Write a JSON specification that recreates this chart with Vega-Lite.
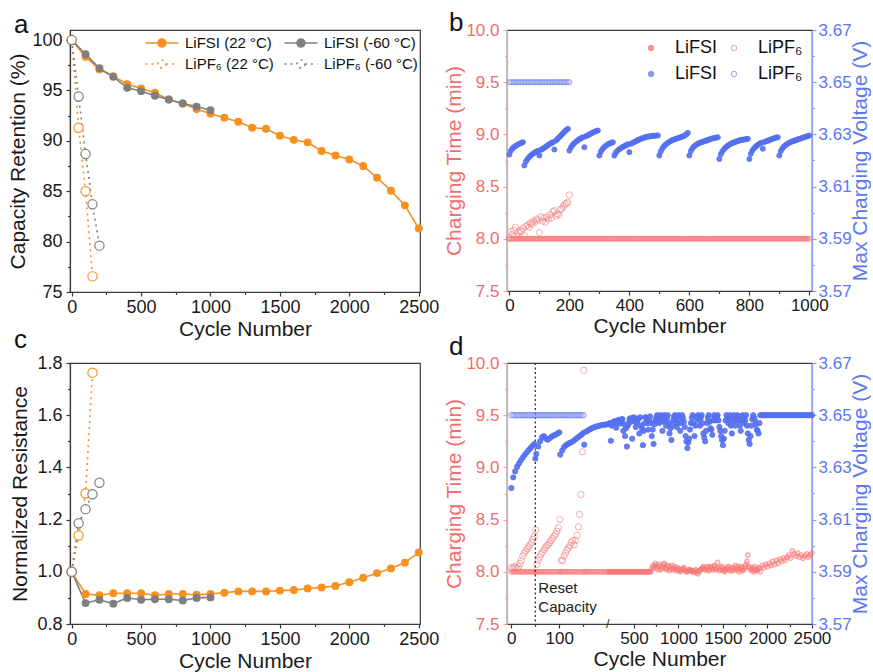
{
  "$schema": "https://vega.github.io/schema/vega-lite/v6.json",
  "padding": {"left": 7, "top": 9, "right": 0, "bottom": 0},
  "background": "white",
  "config": {
    "font": "Liberation Sans",
    "view": {"stroke": "#3a3a3a", "strokeWidth": 1.2},
    "axis": {"grid": false, "labelFont": "Liberation Sans", "titleFont": "Liberation Sans", "labelFontSize": 18, "titleFontSize": 21, "titleFontWeight": "normal", "labelColor": "#1a1a1a", "titleColor": "#1a1a1a", "domainColor": "#3a3a3a", "tickColor": "#3a3a3a", "tickSize": 4, "labelPadding": 2, "titlePadding": 2, "domainWidth": 1.2, "tickWidth": 1.2, "labelFlush": false, "labelOverlap": false},
    "axisY": {"labelPadding": 4, "titlePadding": 3},
    "title": {"fontSize": 26, "fontWeight": "normal", "anchor": "start", "frame": "group", "font": "Liberation Sans", "color": "#111", "baseline": "alphabetic", "offset": 0},
    "legend": {"labelFont": "Liberation Sans", "titleFont": "Liberation Sans"}
  },
  "datasets": {
    "ac": [
      {"s":"LiFSI (22 °C)","c":0,"r":100,"z":1.0},
      {"s":"LiFSI (22 °C)","c":100,"r":98.34,"z":0.915},
      {"s":"LiFSI (22 °C)","c":200,"r":97.09,"z":0.91},
      {"s":"LiFSI (22 °C)","c":300,"r":96.42,"z":0.918},
      {"s":"LiFSI (22 °C)","c":400,"r":95.63,"z":0.918},
      {"s":"LiFSI (22 °C)","c":500,"r":95.2,"z":0.918},
      {"s":"LiFSI (22 °C)","c":600,"r":94.77,"z":0.91},
      {"s":"LiFSI (22 °C)","c":700,"r":94.1,"z":0.915},
      {"s":"LiFSI (22 °C)","c":800,"r":93.7,"z":0.915},
      {"s":"LiFSI (22 °C)","c":900,"r":93.15,"z":0.912},
      {"s":"LiFSI (22 °C)","c":1000,"r":92.7,"z":0.915},
      {"s":"LiFSI (22 °C)","c":1100,"r":92.3,"z":0.92},
      {"s":"LiFSI (22 °C)","c":1200,"r":91.9,"z":0.925},
      {"s":"LiFSI (22 °C)","c":1300,"r":91.3,"z":0.925},
      {"s":"LiFSI (22 °C)","c":1400,"r":91.2,"z":0.925},
      {"s":"LiFSI (22 °C)","c":1500,"r":90.5,"z":0.928},
      {"s":"LiFSI (22 °C)","c":1600,"r":90.1,"z":0.93},
      {"s":"LiFSI (22 °C)","c":1700,"r":89.85,"z":0.936},
      {"s":"LiFSI (22 °C)","c":1800,"r":89.0,"z":0.94},
      {"s":"LiFSI (22 °C)","c":1900,"r":88.55,"z":0.946},
      {"s":"LiFSI (22 °C)","c":2000,"r":88.15,"z":0.96},
      {"s":"LiFSI (22 °C)","c":2100,"r":87.5,"z":0.977},
      {"s":"LiFSI (22 °C)","c":2200,"r":86.35,"z":0.995},
      {"s":"LiFSI (22 °C)","c":2300,"r":85.05,"z":1.013},
      {"s":"LiFSI (22 °C)","c":2400,"r":83.6,"z":1.035},
      {"s":"LiFSI (22 °C)","c":2500,"r":81.3,"z":1.074},
      {"s":"LiFSI (-60 °C)","c":0,"r":100,"z":1.0},
      {"s":"LiFSI (-60 °C)","c":100,"r":98.6,"z":0.88},
      {"s":"LiFSI (-60 °C)","c":200,"r":97.2,"z":0.893},
      {"s":"LiFSI (-60 °C)","c":300,"r":96.35,"z":0.878},
      {"s":"LiFSI (-60 °C)","c":400,"r":95.26,"z":0.9},
      {"s":"LiFSI (-60 °C)","c":500,"r":94.93,"z":0.893},
      {"s":"LiFSI (-60 °C)","c":600,"r":94.47,"z":0.895},
      {"s":"LiFSI (-60 °C)","c":700,"r":94.1,"z":0.895},
      {"s":"LiFSI (-60 °C)","c":800,"r":93.7,"z":0.89},
      {"s":"LiFSI (-60 °C)","c":900,"r":93.4,"z":0.9},
      {"s":"LiFSI (-60 °C)","c":1000,"r":93.05,"z":0.902},
      {"s":"LiPF₆ (22 °C)","c":0,"r":100,"z":1.0},
      {"s":"LiPF₆ (22 °C)","c":50,"r":91.3,"z":1.139},
      {"s":"LiPF₆ (22 °C)","c":100,"r":85.0,"z":1.3},
      {"s":"LiPF₆ (22 °C)","c":150,"r":76.55,"z":1.763},
      {"s":"LiPF₆ (-60 °C)","c":0,"r":100,"z":1.0},
      {"s":"LiPF₆ (-60 °C)","c":50,"r":94.4,"z":1.186},
      {"s":"LiPF₆ (-60 °C)","c":100,"r":88.7,"z":1.24},
      {"s":"LiPF₆ (-60 °C)","c":150,"r":83.7,"z":1.297},
      {"s":"LiPF₆ (-60 °C)","c":200,"r":79.6,"z":1.341}
    ],
    "bF": [
      {"c":0,"t":8,"v":3.6223},{"c":5,"t":8,"v":3.6238},{"c":10,"t":8,"v":3.6246},{"c":15,"t":8,"v":3.6251},{"c":20,"t":8,"v":3.6255},{"c":25,"t":8,"v":3.6259},{"c":30,"t":8,"v":3.6262},{"c":35,"t":8,"v":3.6265},{"c":40,"t":8,"v":3.6268},{"c":45,"t":8,"v":3.627},
      {"c":50,"t":8,"v":3.6181},{"c":55,"t":8,"v":3.6196},{"c":60,"t":8,"v":3.6205},{"c":65,"t":8,"v":3.6212},{"c":70,"t":8,"v":3.6218},{"c":75,"t":8,"v":3.6223},{"c":80,"t":8,"v":3.6227},{"c":85,"t":8,"v":3.6231},{"c":90,"t":8,"v":3.6234},{"c":95,"t":8,"v":3.6237},
      {"c":100,"t":8,"v":3.6219},{"c":105,"t":8,"v":3.6241},{"c":110,"t":8,"v":3.6244},{"c":115,"t":8,"v":3.6248},{"c":120,"t":8,"v":3.6252},{"c":125,"t":8,"v":3.6256},{"c":130,"t":8,"v":3.626},{"c":135,"t":8,"v":3.6264},{"c":140,"t":8,"v":3.6267},{"c":145,"t":8,"v":3.627},
      {"c":150,"t":8,"v":3.6242},{"c":155,"t":8,"v":3.6276},{"c":160,"t":8,"v":3.6282},{"c":165,"t":8,"v":3.6288},{"c":170,"t":8,"v":3.6294},{"c":175,"t":8,"v":3.63},{"c":180,"t":8,"v":3.6306},{"c":185,"t":8,"v":3.6312},{"c":190,"t":8,"v":3.6317},{"c":195,"t":8,"v":3.6321},
      {"c":200,"t":8,"v":3.6238},{"c":205,"t":8,"v":3.625},{"c":210,"t":8,"v":3.6258},{"c":215,"t":8,"v":3.6265},{"c":220,"t":8,"v":3.627},{"c":225,"t":8,"v":3.6275},{"c":230,"t":8,"v":3.6279},{"c":235,"t":8,"v":3.6283},{"c":240,"t":8,"v":3.6286},{"c":245,"t":8,"v":3.6289},
      {"c":250,"t":8,"v":3.6251},{"c":255,"t":8,"v":3.6293},{"c":260,"t":8,"v":3.6296},{"c":265,"t":8,"v":3.6299},{"c":270,"t":8,"v":3.6302},{"c":275,"t":8,"v":3.6305},{"c":280,"t":8,"v":3.6308},{"c":285,"t":8,"v":3.6311},{"c":290,"t":8,"v":3.6313},{"c":295,"t":8,"v":3.6315},
      {"c":300,"t":8,"v":3.6219},{"c":305,"t":8,"v":3.6234},{"c":310,"t":8,"v":3.6243},{"c":315,"t":8,"v":3.625},{"c":320,"t":8,"v":3.6255},{"c":325,"t":8,"v":3.6259},{"c":330,"t":8,"v":3.6263},{"c":335,"t":8,"v":3.6266},{"c":340,"t":8,"v":3.6268},{"c":345,"t":8,"v":3.627},
      {"c":350,"t":8,"v":3.6219},{"c":355,"t":8,"v":3.623},{"c":360,"t":8,"v":3.6237},{"c":365,"t":8,"v":3.6242},{"c":370,"t":8,"v":3.6246},{"c":375,"t":8,"v":3.625},{"c":380,"t":8,"v":3.6253},{"c":385,"t":8,"v":3.6256},{"c":390,"t":8,"v":3.6259},{"c":395,"t":8,"v":3.6262},
      {"c":400,"t":8,"v":3.6232},{"c":405,"t":8,"v":3.6264},{"c":410,"t":8,"v":3.6267},{"c":415,"t":8,"v":3.627},{"c":420,"t":8,"v":3.6273},{"c":425,"t":8,"v":3.6276},{"c":430,"t":8,"v":3.6279},{"c":435,"t":8,"v":3.6281},{"c":440,"t":8,"v":3.6284},{"c":445,"t":8,"v":3.6286},
      {"c":450,"t":8,"v":3.6288},{"c":455,"t":8,"v":3.629},{"c":460,"t":8,"v":3.6291},{"c":465,"t":8,"v":3.6292},{"c":470,"t":8,"v":3.6293},{"c":475,"t":8,"v":3.6294},{"c":480,"t":8,"v":3.6295},{"c":485,"t":8,"v":3.6295},{"c":490,"t":8,"v":3.6296},{"c":495,"t":8,"v":3.6296},
      {"c":500,"t":8,"v":3.6219},{"c":505,"t":8,"v":3.6235},{"c":510,"t":8,"v":3.6246},{"c":515,"t":8,"v":3.6254},{"c":520,"t":8,"v":3.626},{"c":525,"t":8,"v":3.6265},{"c":530,"t":8,"v":3.6269},{"c":535,"t":8,"v":3.6273},{"c":540,"t":8,"v":3.6276},{"c":545,"t":8,"v":3.6279},
      {"c":550,"t":8,"v":3.6281},{"c":555,"t":8,"v":3.6283},{"c":560,"t":8,"v":3.6285},{"c":565,"t":8,"v":3.6287},{"c":570,"t":8,"v":3.6289},{"c":575,"t":8,"v":3.6291},{"c":580,"t":8,"v":3.6293},{"c":585,"t":8,"v":3.6296},{"c":590,"t":8,"v":3.63},{"c":595,"t":8,"v":3.6306},
      {"c":600,"t":8,"v":3.6219},{"c":605,"t":8,"v":3.6236},{"c":610,"t":8,"v":3.6246},{"c":615,"t":8,"v":3.6253},{"c":620,"t":8,"v":3.6258},{"c":625,"t":8,"v":3.6262},{"c":630,"t":8,"v":3.6265},{"c":635,"t":8,"v":3.6268},{"c":640,"t":8,"v":3.627},{"c":645,"t":8,"v":3.6272},
      {"c":650,"t":8,"v":3.6274},{"c":655,"t":8,"v":3.6276},{"c":660,"t":8,"v":3.6278},{"c":665,"t":8,"v":3.628},{"c":670,"t":8,"v":3.6282},{"c":675,"t":8,"v":3.6284},{"c":680,"t":8,"v":3.6285},{"c":685,"t":8,"v":3.6287},{"c":690,"t":8,"v":3.6288},{"c":695,"t":8,"v":3.6289},
      {"c":700,"t":8,"v":3.6206},{"c":705,"t":8,"v":3.6224},{"c":710,"t":8,"v":3.6235},{"c":715,"t":8,"v":3.6243},{"c":720,"t":8,"v":3.6249},{"c":725,"t":8,"v":3.6254},{"c":730,"t":8,"v":3.6258},{"c":735,"t":8,"v":3.6262},{"c":740,"t":8,"v":3.6265},{"c":745,"t":8,"v":3.6268},
      {"c":750,"t":8,"v":3.627},{"c":755,"t":8,"v":3.6272},{"c":760,"t":8,"v":3.6274},{"c":765,"t":8,"v":3.6276},{"c":770,"t":8,"v":3.6278},{"c":775,"t":8,"v":3.6279},{"c":780,"t":8,"v":3.628},{"c":785,"t":8,"v":3.6281},{"c":790,"t":8,"v":3.6282},{"c":795,"t":8,"v":3.6283},
      {"c":800,"t":8,"v":3.6206},{"c":805,"t":8,"v":3.6226},{"c":810,"t":8,"v":3.6238},{"c":815,"t":8,"v":3.6246},{"c":820,"t":8,"v":3.6252},{"c":825,"t":8,"v":3.6257},{"c":830,"t":8,"v":3.6261},{"c":835,"t":8,"v":3.6265},{"c":840,"t":8,"v":3.6268},{"c":845,"t":8,"v":3.6245},
      {"c":850,"t":8,"v":3.6271},{"c":855,"t":8,"v":3.6273},{"c":860,"t":8,"v":3.6275},{"c":865,"t":8,"v":3.6278},{"c":870,"t":8,"v":3.628},{"c":875,"t":8,"v":3.6282},{"c":880,"t":8,"v":3.6284},{"c":885,"t":8,"v":3.6286},{"c":890,"t":8,"v":3.6288},{"c":895,"t":8,"v":3.6289},
      {"c":900,"t":8,"v":3.6219},{"c":905,"t":8,"v":3.6236},{"c":910,"t":8,"v":3.6246},{"c":915,"t":8,"v":3.6253},{"c":920,"t":8,"v":3.6258},{"c":925,"t":8,"v":3.6262},{"c":930,"t":8,"v":3.6266},{"c":935,"t":8,"v":3.6269},{"c":940,"t":8,"v":3.6272},{"c":945,"t":8,"v":3.6274},
      {"c":950,"t":8,"v":3.6276},{"c":955,"t":8,"v":3.6278},{"c":960,"t":8,"v":3.628},{"c":965,"t":8,"v":3.6282},{"c":970,"t":8,"v":3.6284},{"c":975,"t":8,"v":3.6286},{"c":980,"t":8,"v":3.6288},{"c":985,"t":8,"v":3.629},{"c":990,"t":8,"v":3.6292},{"c":995,"t":8,"v":3.6294},
      {"c":1000,"t":8,"v":3.6296}
    ],
    "bP": [
      {"c":0,"t":8.01,"v":3.65},{"c":5,"t":8.07,"v":3.65},{"c":10,"t":8.04,"v":3.65},{"c":15,"t":8.08,"v":3.65},{"c":20,"t":8.11,"v":3.65},{"c":25,"t":8.02,"v":3.65},{"c":30,"t":8.06,"v":3.65},{"c":35,"t":8.08,"v":3.65},{"c":40,"t":8.07,"v":3.65},{"c":45,"t":8.1,"v":3.65},
      {"c":50,"t":8.03,"v":3.65},{"c":55,"t":8.12,"v":3.65},{"c":60,"t":8.13,"v":3.65},{"c":65,"t":8.11,"v":3.65},{"c":70,"t":8.15,"v":3.65},{"c":75,"t":8.14,"v":3.65},{"c":80,"t":8.17,"v":3.65},{"c":85,"t":8.16,"v":3.65},{"c":90,"t":8.19,"v":3.65},{"c":95,"t":8.18,"v":3.65},
      {"c":100,"t":8.06,"v":3.65},{"c":105,"t":8.21,"v":3.65},{"c":110,"t":8.17,"v":3.65},{"c":115,"t":8.2,"v":3.65},{"c":120,"t":8.16,"v":3.65},{"c":125,"t":8.21,"v":3.65},{"c":130,"t":8.19,"v":3.65},{"c":135,"t":8.23,"v":3.65},{"c":140,"t":8.2,"v":3.65},{"c":145,"t":8.26,"v":3.65},
      {"c":150,"t":8.27,"v":3.65},{"c":155,"t":8.22,"v":3.65},{"c":160,"t":8.24,"v":3.65},{"c":165,"t":8.23,"v":3.65},{"c":170,"t":8.28,"v":3.65},{"c":175,"t":8.29,"v":3.65},{"c":180,"t":8.31,"v":3.65},{"c":185,"t":8.33,"v":3.65},{"c":190,"t":8.34,"v":3.65},{"c":195,"t":8.35,"v":3.65},
      {"c":200,"t":8.42,"v":3.65}
    ],
    "dF": [
      {"c":0,"t":8,"v":3.6221},{"c":4,"t":8,"v":3.6262},{"c":8,"t":8,"v":3.6285},{"c":12,"t":8,"v":3.6302},{"c":16,"t":8,"v":3.6315},{"c":20,"t":8,"v":3.6327},{"c":24,"t":8,"v":3.6338},{"c":28,"t":8,"v":3.6348},{"c":32,"t":8,"v":3.6357},{"c":36,"t":8,"v":3.6366},
      {"c":40,"t":8,"v":3.6374},{"c":44,"t":8,"v":3.6382},{"c":48,"t":8,"v":3.639},{"c":50,"t":8,"v":3.6334},{"c":52,"t":8,"v":3.6352},{"c":56,"t":8,"v":3.638},{"c":60,"t":8,"v":3.64},{"c":64,"t":8,"v":3.6416},{"c":68,"t":8,"v":3.642},{"c":72,"t":8,"v":3.641},
      {"c":76,"t":8,"v":3.6406},{"c":80,"t":8,"v":3.6412},{"c":84,"t":8,"v":3.6418},{"c":88,"t":8,"v":3.6422},{"c":92,"t":8,"v":3.6425},{"c":96,"t":8,"v":3.643},{"c":100,"t":8,"v":3.6434},{"c":102,"t":8,"v":3.6349},{"c":106,"t":8,"v":3.6365},{"c":110,"t":8,"v":3.6378},
      {"c":114,"t":8,"v":3.6385},{"c":118,"t":8,"v":3.639},{"c":122,"t":8,"v":3.6394},{"c":126,"t":8,"v":3.6397},{"c":130,"t":8,"v":3.6402},{"c":134,"t":8,"v":3.6408},{"c":138,"t":8,"v":3.6414},{"c":142,"t":8,"v":3.642},{"c":146,"t":8,"v":3.6425},{"c":150,"t":8,"v":3.6432},
      {"c":152,"t":8,"v":3.6387},{"c":156,"t":8,"v":3.6437},{"c":160,"t":8,"v":3.6442},{"c":164,"t":8,"v":3.6446},{"c":168,"t":8,"v":3.645},{"c":172,"t":8,"v":3.6453},{"c":176,"t":8,"v":3.6456},{"c":180,"t":8,"v":3.6458},{"c":184,"t":8,"v":3.646},{"c":188,"t":8,"v":3.6462},
      {"c":192,"t":8,"v":3.6463},{"c":196,"t":8,"v":3.6464},
      {"c":200,"t":8,"v":3.6465},{"c":220,"t":8,"v":3.6468},{"c":240,"t":8,"v":3.6402},{"c":260,"t":8,"v":3.6472},{"c":280,"t":8,"v":3.6476},{"c":300,"t":8,"v":3.6452},{"c":320,"t":8,"v":3.648},{"c":340,"t":8,"v":3.6468},{"c":360,"t":8,"v":3.6484},{"c":380,"t":8,"v":3.644},
      {"c":400,"t":8,"v":3.642},{"c":420,"t":8,"v":3.638},{"c":440,"t":8,"v":3.647},{"c":460,"t":8,"v":3.6488},{"c":480,"t":8,"v":3.641},{"c":500,"t":8,"v":3.6492},{"c":520,"t":8,"v":3.6455},{"c":540,"t":8,"v":3.6478},{"c":560,"t":8,"v":3.643},{"c":580,"t":8,"v":3.646},
      {"c":600,"t":8,"v":3.6385},{"c":620,"t":8,"v":3.647},{"c":640,"t":8,"v":3.649},{"c":660,"t":8,"v":3.6445},{"c":680,"t":8,"v":3.6495},{"c":700,"t":8.03,"v":3.642},{"c":720,"t":8.06,"v":3.639},{"c":740,"t":8.08,"v":3.648},{"c":760,"t":8.04,"v":3.65},{"c":780,"t":8.07,"v":3.647},
      {"c":800,"t":8.02,"v":3.65},{"c":820,"t":8.05,"v":3.644},{"c":840,"t":8.08,"v":3.65},{"c":860,"t":8.03,"v":3.646},{"c":880,"t":8.06,"v":3.65},{"c":900,"t":8.01,"v":3.643},{"c":920,"t":8.04,"v":3.6405},{"c":940,"t":8.02,"v":3.648},{"c":960,"t":8.05,"v":3.65},{"c":980,"t":8.01,"v":3.6455},
      {"c":1000,"t":8.03,"v":3.65},{"c":1020,"t":8.0,"v":3.644},{"c":1040,"t":8.02,"v":3.65},{"c":1060,"t":8.04,"v":3.6475},{"c":1080,"t":8.01,"v":3.642},{"c":1100,"t":8.0,"v":3.6374},{"c":1120,"t":8.02,"v":3.641},{"c":1140,"t":8.01,"v":3.647},{"c":1160,"t":8.0,"v":3.65},{"c":1180,"t":8.01,"v":3.642},
      {"c":1200,"t":7.99,"v":3.649},{"c":1220,"t":7.98,"v":3.65},{"c":1240,"t":8.01,"v":3.646},{"c":1260,"t":8.03,"v":3.65},{"c":1280,"t":8.05,"v":3.643},{"c":1300,"t":8.02,"v":3.64},{"c":1320,"t":8.04,"v":3.647},{"c":1340,"t":8.01,"v":3.65},{"c":1360,"t":8.05,"v":3.645},{"c":1380,"t":8.03,"v":3.6425},
      {"c":1400,"t":8.06,"v":3.65},{"c":1420,"t":8.02,"v":3.648},{"c":1440,"t":8.09,"v":3.65},{"c":1460,"t":8.01,"v":3.6455},{"c":1480,"t":8.04,"v":3.642},{"c":1500,"t":8.02,"v":3.6385},{"c":1520,"t":8.0,"v":3.644},{"c":1540,"t":8.03,"v":3.65},{"c":1560,"t":8.05,"v":3.647},{"c":1580,"t":8.01,"v":3.65},
      {"c":1600,"t":8.04,"v":3.643},{"c":1620,"t":8.02,"v":3.65},{"c":1640,"t":8.06,"v":3.646},{"c":1660,"t":8.03,"v":3.65},{"c":1680,"t":8.0,"v":3.648},{"c":1700,"t":8.05,"v":3.644},{"c":1720,"t":8.01,"v":3.65},{"c":1740,"t":8.03,"v":3.647},{"c":1760,"t":8.07,"v":3.65},{"c":1780,"t":8.16,"v":3.643},
      {"c":1800,"t":8.04,"v":3.639},{"c":1820,"t":8.02,"v":3.646},{"c":1840,"t":8.0,"v":3.65},{"c":1860,"t":8.05,"v":3.648},{"c":1880,"t":8.01,"v":3.6445},{"c":1900,"t":8.03,"v":3.643},{"c":1920,"t":8.0,"v":3.65},{"c":1940,"t":8.06,"v":3.65},{"c":1960,"t":8.04,"v":3.65},{"c":1980,"t":8.07,"v":3.65},
      {"c":2000,"t":8.05,"v":3.65},{"c":2020,"t":8.08,"v":3.65},{"c":2040,"t":8.06,"v":3.65},{"c":2060,"t":8.1,"v":3.65},{"c":2080,"t":8.07,"v":3.65},{"c":2100,"t":8.11,"v":3.65},{"c":2120,"t":8.08,"v":3.65},{"c":2140,"t":8.12,"v":3.65},{"c":2160,"t":8.1,"v":3.65},{"c":2180,"t":8.13,"v":3.65},
      {"c":2200,"t":8.11,"v":3.65},{"c":2220,"t":8.14,"v":3.65},{"c":2240,"t":8.16,"v":3.65},{"c":2260,"t":8.13,"v":3.65},{"c":2280,"t":8.2,"v":3.65},{"c":2300,"t":8.17,"v":3.65},{"c":2320,"t":8.15,"v":3.65},{"c":2340,"t":8.18,"v":3.65},{"c":2360,"t":8.14,"v":3.65},{"c":2380,"t":8.16,"v":3.65},
      {"c":2400,"t":8.13,"v":3.65},{"c":2420,"t":8.15,"v":3.65},{"c":2440,"t":8.17,"v":3.65},{"c":2460,"t":8.14,"v":3.65},{"c":2480,"t":8.16,"v":3.65},{"c":2500,"t":8.18,"v":3.65},
      {"c":210,"t":8,"v":3.6466},{"c":230,"t":8,"v":3.647},{"c":250,"t":8,"v":3.646},{"c":270,"t":8,"v":3.6474},{"c":290,"t":8,"v":3.6478},{"c":310,"t":8,"v":3.647},{"c":330,"t":8,"v":3.6482},{"c":350,"t":8,"v":3.6475},{"c":370,"t":8,"v":3.6485},{"c":390,"t":8,"v":3.6465},
      {"c":410,"t":8,"v":3.645},{"c":430,"t":8,"v":3.646},{"c":450,"t":8,"v":3.6486},{"c":470,"t":8,"v":3.6475},{"c":490,"t":8,"v":3.649},{"c":510,"t":8,"v":3.648},{"c":530,"t":8,"v":3.647},{"c":550,"t":8,"v":3.6488},{"c":570,"t":8,"v":3.6492},{"c":590,"t":8,"v":3.645},
      {"c":610,"t":8,"v":3.644},{"c":630,"t":8,"v":3.6493},{"c":650,"t":8,"v":3.647},{"c":670,"t":8,"v":3.648},{"c":690,"t":8,"v":3.647},{"c":710,"t":8.05,"v":3.6445},{"c":730,"t":8.04,"v":3.6465},{"c":750,"t":8.06,"v":3.649},{"c":770,"t":8.02,"v":3.648},{"c":790,"t":8.05,"v":3.6495},
      {"c":810,"t":8.03,"v":3.6475},{"c":830,"t":8.07,"v":3.649},{"c":850,"t":8.04,"v":3.648},{"c":870,"t":8.02,"v":3.649},{"c":890,"t":8.05,"v":3.647},{"c":910,"t":8.03,"v":3.645},{"c":930,"t":8.06,"v":3.646},{"c":950,"t":8.03,"v":3.6495},{"c":970,"t":8.02,"v":3.648},{"c":990,"t":8.04,"v":3.647},
      {"c":1010,"t":8.02,"v":3.649},{"c":1030,"t":8.01,"v":3.647},{"c":1050,"t":8.03,"v":3.649},{"c":1070,"t":8.02,"v":3.6455},{"c":1090,"t":8.0,"v":3.64},{"c":1110,"t":8.01,"v":3.6395},{"c":1130,"t":8.02,"v":3.6445},{"c":1150,"t":8.01,"v":3.649},{"c":1170,"t":8.0,"v":3.647},{"c":1190,"t":8.02,"v":3.646},
      {"c":1210,"t":8.0,"v":3.6495},{"c":1230,"t":8.01,"v":3.648},{"c":1250,"t":8.02,"v":3.649},{"c":1270,"t":8.04,"v":3.647},{"c":1290,"t":8.03,"v":3.6415},{"c":1310,"t":8.02,"v":3.644},{"c":1330,"t":8.05,"v":3.649},{"c":1350,"t":8.02,"v":3.6475},{"c":1370,"t":8.04,"v":3.6445},{"c":1390,"t":8.02,"v":3.648},
      {"c":1410,"t":8.05,"v":3.649},{"c":1430,"t":8.03,"v":3.6495},{"c":1450,"t":8.04,"v":3.648},{"c":1470,"t":8.02,"v":3.644},{"c":1490,"t":8.05,"v":3.6405},{"c":1510,"t":8.01,"v":3.641},{"c":1530,"t":8.02,"v":3.648},{"c":1550,"t":8.04,"v":3.649},{"c":1570,"t":8.02,"v":3.6485},{"c":1590,"t":8.03,"v":3.646},
      {"c":1610,"t":8.01,"v":3.6475},{"c":1630,"t":8.04,"v":3.649},{"c":1650,"t":8.02,"v":3.648},{"c":1670,"t":8.05,"v":3.6495},{"c":1690,"t":8.02,"v":3.646},{"c":1710,"t":8.04,"v":3.648},{"c":1730,"t":8.02,"v":3.649},{"c":1750,"t":8.05,"v":3.648},{"c":1770,"t":8.1,"v":3.646},{"c":1790,"t":8.05,"v":3.6405},
      {"c":1810,"t":8.02,"v":3.642},{"c":1830,"t":8.04,"v":3.6485},{"c":1850,"t":8.01,"v":3.649},{"c":1870,"t":8.03,"v":3.6465},{"c":1890,"t":8.02,"v":3.644},{"c":1910,"t":8.04,"v":3.647}
    ],
    "dP": [
      {"c":0,"t":8.04,"v":3.65},{"c":3,"t":8.03,"v":3.65},{"c":6,"t":8.05,"v":3.65},{"c":9,"t":8.04,"v":3.65},{"c":12,"t":8.03,"v":3.65},{"c":15,"t":8.05,"v":3.65},{"c":18,"t":8.08,"v":3.65},{"c":21,"t":8.11,"v":3.65},{"c":24,"t":8.15,"v":3.65},{"c":27,"t":8.18,"v":3.65},
      {"c":30,"t":8.2,"v":3.65},{"c":33,"t":8.22,"v":3.65},{"c":36,"t":8.24,"v":3.65},{"c":39,"t":8.26,"v":3.65},{"c":42,"t":8.28,"v":3.65},{"c":45,"t":8.31,"v":3.65},{"c":48,"t":8.34,"v":3.65},{"c":51,"t":8.4,"v":3.65},
      {"c":53,"t":8.07,"v":3.65},{"c":56,"t":8.11,"v":3.65},{"c":59,"t":8.14,"v":3.65},{"c":62,"t":8.17,"v":3.65},{"c":65,"t":8.19,"v":3.65},{"c":68,"t":8.21,"v":3.65},{"c":71,"t":8.23,"v":3.65},{"c":74,"t":8.25,"v":3.65},{"c":77,"t":8.26,"v":3.65},{"c":80,"t":8.28,"v":3.65},
      {"c":83,"t":8.3,"v":3.65},{"c":86,"t":8.32,"v":3.65},{"c":89,"t":8.34,"v":3.65},{"c":92,"t":8.36,"v":3.65},{"c":95,"t":8.39,"v":3.65},{"c":98,"t":8.42,"v":3.65},{"c":101,"t":8.5,"v":3.65},
      {"c":104,"t":8.11,"v":3.65},{"c":107,"t":8.11,"v":3.65},{"c":110,"t":8.15,"v":3.65},{"c":113,"t":8.18,"v":3.65},{"c":116,"t":8.21,"v":3.65},{"c":119,"t":8.23,"v":3.65},{"c":122,"t":8.25,"v":3.65},{"c":125,"t":8.28,"v":3.65},{"c":128,"t":8.3,"v":3.65},{"c":131,"t":8.26,"v":3.65},
      {"c":134,"t":8.3,"v":3.65},{"c":137,"t":8.35,"v":3.65},{"c":140,"t":8.43,"v":3.65},{"c":142,"t":8.55,"v":3.65},{"c":145,"t":8.74,"v":3.65},{"c":148,"t":9.15,"v":3.65},{"c":151,"t":9.93,"v":3.65}
    ],
    "legA": [
      {"s":"LiFSI (22 °C)"},{"s":"LiFSI (-60 °C)"},{"s":"LiPF₆ (22 °C)"},{"s":"LiPF₆ (-60 °C)"}
    ],
    "legB": [
      {"k":"LiFSI|t"},{"k":"LiPF₆|t"},{"k":"LiFSI|v"},{"k":"LiPF₆|v"}
    ]
  },
  "columns": 2,
  "bounds": "flush",
  "spacing": {"row": 71, "column": 87},
  "resolve": {"scale": {"stroke": "independent", "fill": "independent", "strokeDash": "independent", "color": "independent"}, "legend": {"stroke": "independent", "fill": "independent", "strokeDash": "independent"}},
  "concat": [
    {
      "width": 350, "height": 262,
      "title": {"text": "a", "dx": -56, "dy": 12},
      "resolve": {"axis": {"x": "independent", "y": "independent"}},
      "layer": [
        {
          "data": {"name": "ac"},
          "mark": {"type": "line", "strokeWidth": 1.6},
          "encoding": {
            "x": {"field": "c", "type": "quantitative", "scale": {"domain": [-12, 2509], "nice": false, "zero": false}, "axis": {"orient": "bottom", "values": [0, 500, 1000, 1500, 2000, 2500], "format": "d", "title": "Cycle Number"}},
            "y": {"field": "r", "type": "quantitative", "scale": {"domain": [75, 101], "nice": false, "zero": false}, "axis": {"orient": "left", "values": [75, 80, 85, 90, 95, 100], "title": "Capacity Retention (%)"}},
            "stroke": {"field": "s", "type": "nominal", "scale": {"domain": ["LiFSI (22 °C)", "LiFSI (-60 °C)", "LiPF₆ (22 °C)", "LiPF₆ (-60 °C)"], "range": ["#F7901E", "#7F7F7F", "#F7901E", "#7F7F7F"]}},
            "strokeDash": {"field": "s", "type": "nominal", "scale": {"domain": ["LiFSI (22 °C)", "LiFSI (-60 °C)", "LiPF₆ (22 °C)", "LiPF₆ (-60 °C)"], "range": [[1, 0], [1, 0], [2, 4], [2, 4]]}}
          }
        },
        {
          "data": {"name": "ac"},
          "transform": [{"filter": "indexof(datum.s, 'LiFSI') == 0"}],
          "mark": {"type": "point", "shape": "circle", "size": 45, "strokeWidth": 1.2, "opacity": 1},
          "encoding": {
            "x": {"field": "c", "type": "quantitative", "axis": null},
            "y": {"field": "r", "type": "quantitative", "axis": null},
            "stroke": {"field": "s", "type": "nominal"},
            "fill": {"field": "s", "type": "nominal", "scale": {"domain": ["LiFSI (22 °C)", "LiFSI (-60 °C)", "LiPF₆ (22 °C)", "LiPF₆ (-60 °C)"], "range": ["#F7901E", "#7F7F7F", "#ffffff", "#ffffff"]}}
          }
        },
        {
          "data": {"name": "ac"},
          "transform": [{"filter": "indexof(datum.s, 'LiPF') == 0"}],
          "mark": {"type": "point", "shape": "circle", "size": 85, "strokeWidth": 1.2, "opacity": 1},
          "encoding": {
            "x": {"field": "c", "type": "quantitative", "axis": null},
            "y": {"field": "r", "type": "quantitative", "axis": null},
            "stroke": {"field": "s", "type": "nominal"},
            "fill": {"field": "s", "type": "nominal"}
          }
        },
        {
          "data": {"name": "legA"},
          "transform": [{"filter": "false"}],
          "mark": {"type": "point", "shape": "circle"},
          "encoding": {
            "stroke": {"field": "s", "type": "nominal", "legend": {"values": ["LiFSI (22 °C)", "LiPF₆ (22 °C)", "LiFSI (-60 °C)", "LiPF₆ (-60 °C)"], "orient": "top-right", "offset": 2, "padding": 0, "columns": 2, "title": null, "symbolType": "M-1.65,0L-0.4,0M0.4,0L1.65,0M0.4,0A0.4,0.4,0,1,1,-0.4,0A0.4,0.4,0,1,1,0.4,0", "symbolSize": 400, "symbolStrokeWidth": 1.5, "labelFontSize": 15, "labelOffset": 12, "columnPadding": 7, "rowPadding": 2, "labelColor": "#111"}},
            "strokeDash": {"field": "s", "type": "nominal", "legend": {"values": ["LiFSI (22 °C)", "LiPF₆ (22 °C)", "LiFSI (-60 °C)", "LiPF₆ (-60 °C)"], "orient": "top-right", "offset": 2, "padding": 0, "columns": 2, "title": null, "symbolType": "M-1.65,0L-0.4,0M0.4,0L1.65,0M0.4,0A0.4,0.4,0,1,1,-0.4,0A0.4,0.4,0,1,1,0.4,0", "symbolSize": 400, "symbolStrokeWidth": 1.5, "labelFontSize": 15, "labelOffset": 12, "columnPadding": 7, "rowPadding": 2, "labelColor": "#111"}},
            "fill": {"field": "s", "type": "nominal", "legend": {"values": ["LiFSI (22 °C)", "LiPF₆ (22 °C)", "LiFSI (-60 °C)", "LiPF₆ (-60 °C)"], "orient": "top-right", "offset": 2, "padding": 0, "columns": 2, "title": null, "symbolType": "M-1.65,0L-0.4,0M0.4,0L1.65,0M0.4,0A0.4,0.4,0,1,1,-0.4,0A0.4,0.4,0,1,1,0.4,0", "symbolSize": 400, "symbolStrokeWidth": 1.5, "labelFontSize": 15, "labelOffset": 12, "columnPadding": 7, "rowPadding": 2, "labelColor": "#111"}}
          }
        },
        {
          "data": {"name": "ac"},
          "transform": [{"filter": "false"}],
          "mark": {"type": "point"},
          "encoding": {
            "x": {"field": "c", "type": "quantitative", "axis": {"orient": "bottom", "values": [250, 750, 1250, 1750, 2250], "labels": false, "title": null, "domain": false, "tickSize": 2.5}},
            "y": {"field": "r", "type": "quantitative", "axis": {"orient": "left", "values": [77.5, 82.5, 87.5, 92.5, 97.5], "labels": false, "title": null, "domain": false, "tickSize": 2.5}}
          }
        }
      ]
    },
    {
      "width": 305, "height": 261,
      "title": {"text": "b", "dx": -58, "dy": 19},
      "resolve": {"scale": {"y": "independent"}, "axis": {"x": "independent"}},
      "layer": [
        {
          "resolve": {"axis": {"x": "independent", "y": "independent"}},
          "layer": [
            {
              "data": {"name": "bF"},
              "mark": {"type": "point", "shape": "circle", "size": 24, "fill": "#F87878", "fillOpacity": 0.25, "stroke": "#F87878", "strokeOpacity": 0.8, "strokeWidth": 0.8},
              "encoding": {
                "x": {"field": "c", "type": "quantitative", "scale": {"domain": [-8, 1009], "nice": false, "zero": false}, "axis": {"orient": "bottom", "values": [0, 200, 400, 600, 800, 1000], "format": "d", "title": "Cycle Number", "labelFontSize": 17}},
                "y": {"field": "t", "type": "quantitative", "scale": {"domain": [7.5, 10], "nice": false, "zero": false}, "axis": {"orient": "left", "values": [7.5, 8, 8.5, 9, 9.5, 10], "format": ".1f", "title": "Charging Time (min)", "labelFontSize": 17, "labelColor": "#F26D6D", "titleColor": "#F26D6D", "domainColor": "#F4A0A0", "tickColor": "#F4A0A0", "titlePadding": 1}}
              }
            },
            {
              "data": {"name": "bP"},
              "mark": {"type": "point", "shape": "circle", "size": 40, "fill": "rgba(255,255,255,0)", "stroke": "#F08080", "strokeWidth": 0.9},
              "encoding": {
                "x": {"field": "c", "type": "quantitative", "axis": null},
                "y": {"field": "t", "type": "quantitative", "axis": null}
              }
            },
            {
              "data": {"name": "bP"},
              "transform": [{"filter": "false"}],
              "mark": {"type": "point"},
              "encoding": {
                "x": {"field": "c", "type": "quantitative", "axis": {"orient": "bottom", "values": [100, 300, 500, 700, 900], "labels": false, "title": null, "domain": false, "tickSize": 2.5}},
                "y": {"field": "t", "type": "quantitative", "axis": {"orient": "left", "values": [7.75, 8.25, 8.75, 9.25, 9.75], "labels": false, "title": null, "domain": false, "tickSize": 2.5, "tickColor": "#F4A0A0"}}
              }
            },
            {
              "data": {"name": "legB"},
              "transform": [{"filter": "false"}],
              "mark": {"type": "point", "shape": "circle"},
              "encoding": {
                "stroke": {"field": "k", "type": "nominal", "scale": {"domain": ["LiFSI|t", "LiPF₆|t", "LiFSI|v", "LiPF₆|v"], "range": ["#F86464", "#F08080", "#5470F0", "#7085EC"]},
                  "legend": {"values": ["LiFSI|t", "LiFSI|v", "LiPF₆|t", "LiPF₆|v"], "orient": "top-right", "offset": 9, "padding": 0, "columns": 2, "title": null, "symbolType": "circle", "symbolSize": 30, "symbolStrokeWidth": 1, "labelFontSize": 18, "labelOffset": 15, "columnPadding": 7, "rowPadding": 8, "labelColor": "#111", "labelExpr": "split(datum.label, '|')[0]"}},
                "fill": {"field": "k", "type": "nominal", "scale": {"domain": ["LiFSI|t", "LiPF₆|t", "LiFSI|v", "LiPF₆|v"], "range": ["#F86464", "rgba(255,255,255,0)", "#5470F0", "rgba(255,255,255,0)"]},
                  "legend": {"values": ["LiFSI|t", "LiFSI|v", "LiPF₆|t", "LiPF₆|v"], "orient": "top-right", "offset": 9, "padding": 0, "columns": 2, "title": null, "symbolType": "circle", "symbolSize": 30, "symbolStrokeWidth": 1, "labelFontSize": 18, "labelOffset": 15, "columnPadding": 7, "rowPadding": 8, "labelColor": "#111", "labelExpr": "split(datum.label, '|')[0]"}}
              }
            }
          ]
        },
        {
          "resolve": {"axis": {"x": "independent", "y": "independent"}},
          "layer": [
            {
              "data": {"name": "bF"},
              "mark": {"type": "point", "shape": "circle", "size": 26, "fill": "#5470F0", "fillOpacity": 0.9, "stroke": "#5470F0", "strokeWidth": 0.8},
              "encoding": {
                "x": {"field": "c", "type": "quantitative", "axis": null},
                "y": {"field": "v", "type": "quantitative", "scale": {"domain": [3.57, 3.67], "nice": false, "zero": false}, "axis": {"orient": "right", "values": [3.57, 3.59, 3.61, 3.63, 3.65, 3.67], "format": ".2f", "title": "Max Charging Voltage (V)", "labelFontSize": 17, "labelColor": "#5B78F2", "titleColor": "#5B78F2", "domainColor": "#8C9CF5", "tickColor": "#8C9CF5", "titleAngle": 270, "titleBaseline": "top", "titlePadding": -2, "labelPadding": 2}}
              }
            },
            {
              "data": {"name": "bP"},
              "mark": {"type": "point", "shape": "circle", "size": 26, "fill": "rgba(255,255,255,0)", "stroke": "#7085EC", "strokeWidth": 0.9},
              "encoding": {
                "x": {"field": "c", "type": "quantitative", "axis": null},
                "y": {"field": "v", "type": "quantitative", "axis": null}
              }
            },
            {
              "data": {"name": "bP"},
              "transform": [{"filter": "false"}],
              "mark": {"type": "point"},
              "encoding": {
                "x": {"field": "c", "type": "quantitative", "axis": null},
                "y": {"field": "v", "type": "quantitative", "axis": {"orient": "right", "values": [3.58, 3.6, 3.62, 3.64, 3.66], "labels": false, "title": null, "domain": false, "tickSize": 2.5, "tickColor": "#8C9CF5"}}
              }
            }
          ]
        }
      ]
    },
    {
      "width": 350, "height": 261,
      "title": {"text": "c", "dx": -56, "dy": 3},
      "resolve": {"axis": {"x": "independent", "y": "independent"}},
      "layer": [
        {
          "data": {"name": "ac"},
          "mark": {"type": "line", "strokeWidth": 1.6},
          "encoding": {
            "x": {"field": "c", "type": "quantitative", "scale": {"domain": [-12, 2509], "nice": false, "zero": false}, "axis": {"orient": "bottom", "values": [0, 500, 1000, 1500, 2000, 2500], "format": "d", "title": "Cycle Number"}},
            "y": {"field": "z", "type": "quantitative", "scale": {"domain": [0.8, 1.8], "nice": false, "zero": false}, "axis": {"orient": "left", "values": [0.8, 1.0, 1.2, 1.4, 1.6, 1.8], "format": ".1f", "title": "Normalized Resistance", "titlePadding": 6}},
            "stroke": {"field": "s", "type": "nominal", "scale": {"domain": ["LiFSI (22 °C)", "LiFSI (-60 °C)", "LiPF₆ (22 °C)", "LiPF₆ (-60 °C)"], "range": ["#F7901E", "#7F7F7F", "#F7901E", "#7F7F7F"]}, "legend": null},
            "strokeDash": {"field": "s", "type": "nominal", "scale": {"domain": ["LiFSI (22 °C)", "LiFSI (-60 °C)", "LiPF₆ (22 °C)", "LiPF₆ (-60 °C)"], "range": [[1, 0], [1, 0], [2, 4], [2, 4]]}, "legend": null}
          }
        },
        {
          "data": {"name": "ac"},
          "transform": [{"filter": "indexof(datum.s, 'LiFSI') == 0"}],
          "mark": {"type": "point", "shape": "circle", "size": 45, "strokeWidth": 1.2, "opacity": 1},
          "encoding": {
            "x": {"field": "c", "type": "quantitative", "axis": null},
            "y": {"field": "z", "type": "quantitative", "axis": null},
            "stroke": {"field": "s", "type": "nominal", "legend": null},
            "fill": {"field": "s", "type": "nominal", "scale": {"domain": ["LiFSI (22 °C)", "LiFSI (-60 °C)", "LiPF₆ (22 °C)", "LiPF₆ (-60 °C)"], "range": ["#F7901E", "#7F7F7F", "#ffffff", "#ffffff"]}, "legend": null}
          }
        },
        {
          "data": {"name": "ac"},
          "transform": [{"filter": "indexof(datum.s, 'LiPF') == 0"}],
          "mark": {"type": "point", "shape": "circle", "size": 85, "strokeWidth": 1.2, "opacity": 1},
          "encoding": {
            "x": {"field": "c", "type": "quantitative", "axis": null},
            "y": {"field": "z", "type": "quantitative", "axis": null},
            "stroke": {"field": "s", "type": "nominal", "legend": null},
            "fill": {"field": "s", "type": "nominal", "legend": null}
          }
        },
        {
          "data": {"name": "ac"},
          "transform": [{"filter": "false"}],
          "mark": {"type": "point"},
          "encoding": {
            "x": {"field": "c", "type": "quantitative", "axis": {"orient": "bottom", "values": [250, 750, 1250, 1750, 2250], "labels": false, "title": null, "domain": false, "tickSize": 2.5}},
            "y": {"field": "z", "type": "quantitative", "axis": {"orient": "left", "values": [0.9, 1.1, 1.3, 1.5, 1.7], "labels": false, "title": null, "domain": false, "tickSize": 2.5}}
          }
        }
      ]
    },
    {
      "width": 305, "height": 261,
      "title": {"text": "d", "dx": -58, "dy": 10},
      "resolve": {"scale": {"y": "independent"}, "axis": {"x": "independent"}},
      "layer": [
        {
          "resolve": {"axis": {"x": "independent", "y": "independent"}},
          "layer": [
            {
              "data": {"name": "dF"},
              "mark": {"type": "point", "shape": "circle", "size": 24, "fill": "#F87878", "fillOpacity": 0.3, "stroke": "#F87878", "strokeOpacity": 0.85, "strokeWidth": 0.8},
              "encoding": {
                "x": {"field": "c", "type": "quantitative", "scale": {"domain": [-9, 200, 2501], "range": [0, 100.3, 305], "nice": false, "zero": false}, "axis": {"orient": "bottom", "values": [0, 100, 500, 1000, 1500, 2000, 2500], "format": "d", "title": "Cycle Number", "labelFontSize": 17}},
                "y": {"field": "t", "type": "quantitative", "scale": {"domain": [7.5, 10], "nice": false, "zero": false}, "axis": {"orient": "left", "values": [7.5, 8, 8.5, 9, 9.5, 10], "format": ".1f", "title": "Charging Time (min)", "labelFontSize": 17, "labelColor": "#F26D6D", "titleColor": "#F26D6D", "domainColor": "#F4A0A0", "tickColor": "#F4A0A0", "titlePadding": 1}}
              }
            },
            {
              "data": {"name": "dP"},
              "mark": {"type": "point", "shape": "circle", "size": 40, "fill": "rgba(255,255,255,0)", "stroke": "#F08080", "strokeWidth": 0.9},
              "encoding": {
                "x": {"field": "c", "type": "quantitative", "axis": null},
                "y": {"field": "t", "type": "quantitative", "axis": null}
              }
            },
            {
              "data": {"name": "dP"},
              "transform": [{"filter": "false"}],
              "mark": {"type": "point"},
              "encoding": {
                "x": {"field": "c", "type": "quantitative", "axis": {"orient": "bottom", "values": [50, 150, 750, 1250, 1750, 2250], "labels": false, "title": null, "domain": false, "tickSize": 2.5}},
                "y": {"field": "t", "type": "quantitative", "axis": {"orient": "left", "values": [7.75, 8.25, 8.75, 9.25, 9.75], "labels": false, "title": null, "domain": false, "tickSize": 2.5, "tickColor": "#F4A0A0"}}
              }
            },
            {
              "data": {"values": [{}]},
              "mark": {"type": "rule", "strokeDash": [2, 2.5], "color": "#333", "strokeWidth": 1.3},
              "encoding": {
                "x": {"datum": 50, "type": "quantitative", "axis": null}
              }
            },
            {
              "data": {"values": [{}]},
              "mark": {"type": "text", "text": ["Reset", "Capacity"], "align": "left", "baseline": "top", "dx": 3, "fontSize": 15, "lineHeight": 19, "color": "#222", "font": "Liberation Sans"},
              "encoding": {
                "x": {"datum": 50, "type": "quantitative", "axis": null},
                "y": {"datum": 7.91, "type": "quantitative", "axis": null}
              }
            },
            {
              "data": {"values": [{}]},
              "mark": {"type": "text", "text": "/", "align": "center", "baseline": "middle", "fontSize": 13, "color": "#333", "font": "Liberation Sans"},
              "encoding": {
                "x": {"datum": 207, "type": "quantitative", "axis": null},
                "y": {"datum": 7.5, "type": "quantitative", "axis": null}
              }
            }
          ]
        },
        {
          "resolve": {"axis": {"x": "independent", "y": "independent"}},
          "layer": [
            {
              "data": {"name": "dF"},
              "mark": {"type": "point", "shape": "circle", "size": 28, "fill": "#5470F0", "fillOpacity": 0.9, "stroke": "#5470F0", "strokeWidth": 0.8},
              "encoding": {
                "x": {"field": "c", "type": "quantitative", "axis": null},
                "y": {"field": "v", "type": "quantitative", "scale": {"domain": [3.57, 3.67], "nice": false, "zero": false}, "axis": {"orient": "right", "values": [3.57, 3.59, 3.61, 3.63, 3.65, 3.67], "format": ".2f", "title": "Max Charging Voltage (V)", "labelFontSize": 17, "labelColor": "#5B78F2", "titleColor": "#5B78F2", "domainColor": "#8C9CF5", "tickColor": "#8C9CF5", "titleAngle": 270, "titleBaseline": "top", "titlePadding": -2, "labelPadding": 2}}
              }
            },
            {
              "data": {"name": "dP"},
              "mark": {"type": "point", "shape": "circle", "size": 30, "fill": "rgba(255,255,255,0)", "stroke": "#7085EC", "strokeWidth": 0.9},
              "encoding": {
                "x": {"field": "c", "type": "quantitative", "axis": null},
                "y": {"field": "v", "type": "quantitative", "axis": null}
              }
            },
            {
              "data": {"name": "dP"},
              "transform": [{"filter": "false"}],
              "mark": {"type": "point"},
              "encoding": {
                "x": {"field": "c", "type": "quantitative", "axis": null},
                "y": {"field": "v", "type": "quantitative", "axis": {"orient": "right", "values": [3.58, 3.6, 3.62, 3.64, 3.66], "labels": false, "title": null, "domain": false, "tickSize": 2.5, "tickColor": "#8C9CF5"}}
              }
            }
          ]
        }
      ]
    }
  ]
}
